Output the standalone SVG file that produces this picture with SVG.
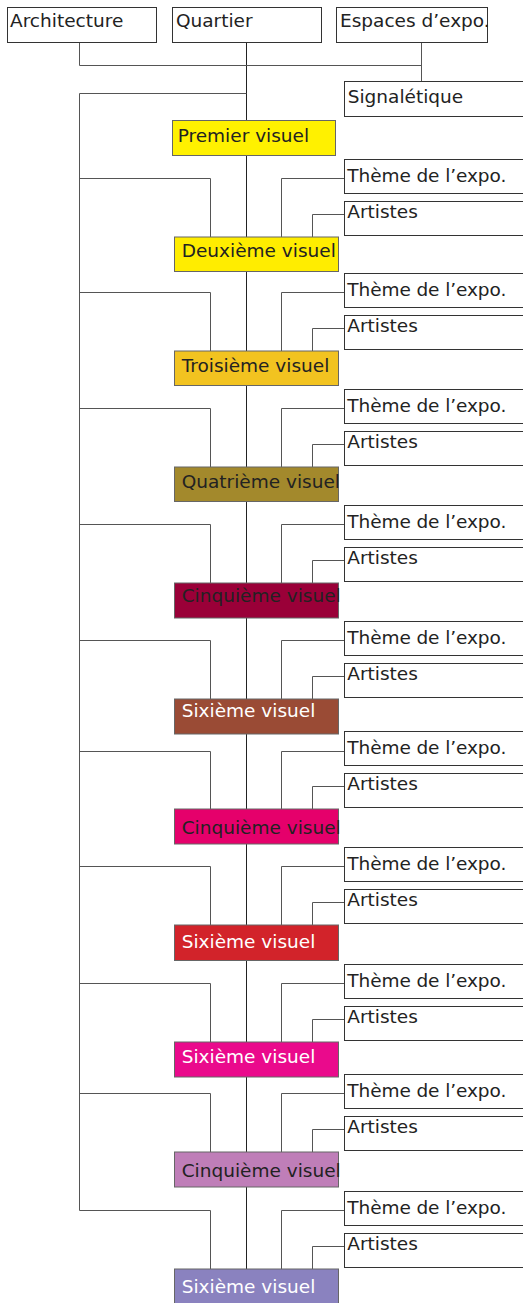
<svg xmlns="http://www.w3.org/2000/svg" width="523" height="1303" viewBox="0 0 523 1303">
<style>
text{font-family:"DejaVu Sans","Liberation Sans",sans-serif;font-size:18.5px;fill:#222}
.w{fill:#fff}
.box{fill:#fff;stroke:#333;stroke-width:1}
.v{stroke:#666;stroke-width:1}
#connectors path{fill:none;stroke:#555;stroke-width:1}
#connectors .c{stroke:#222}
</style>
<rect width="523" height="1303" fill="#fff"/>
<g id="connectors">
<path class="c" d="M246.5 42V1269"/>
<path d="M79.5 42V65.5H421.5M421.5 42V81"/>
<path d="M246.5 93.5H79.5V1210.5"/>
<path d="M79.5 178.5H210.5V237M344 178.5H281.5V237M344 214.5H312.5V237"/>
<path d="M79.5 292.5H210.5V351M344 292.5H281.5V351M344 328.5H312.5V351"/>
<path d="M79.5 408.5H210.5V467M344 408.5H281.5V467M344 444.5H312.5V467"/>
<path d="M79.5 524.5H210.5V583M344 524.5H281.5V583M344 560.5H312.5V583"/>
<path d="M79.5 640.5H210.5V699M344 640.5H281.5V699M344 676.5H312.5V699"/>
<path d="M79.5 751.5H210.5V809M344 751.5H281.5V809M344 786.5H312.5V809"/>
<path d="M79.5 866.5H210.5V925M344 866.5H281.5V925M344 902.5H312.5V925"/>
<path d="M79.5 983.5H210.5V1042M344 983.5H281.5V1042M344 1019.5H312.5V1042"/>
<path d="M79.5 1093.5H210.5V1152M344 1093.5H281.5V1152M344 1129.5H312.5V1152"/>
<path d="M79.5 1210.5H210.5V1269M344 1210.5H281.5V1269M344 1246.5H312.5V1269"/>
</g>
<g id="architecture"><rect class="box" x="7.5" y="7.5" width="149" height="35"/><text x="10" y="26.7">Architecture</text></g>
<g id="quartier"><rect class="box" x="172.5" y="7.5" width="149" height="35"/><text x="176" y="26.7">Quartier</text></g>
<g id="espaces"><rect class="box" x="336.5" y="7.5" width="151" height="35"/><text x="340" y="26.7">Espaces d’expo.</text></g>
<g id="signaletique"><rect class="box" x="344.5" y="81.5" width="190" height="35"/><text x="347.7" y="103.3">Signalétique</text></g>
<g id="premier"><rect class="v" fill="#FFF100" x="172.5" y="120.5" width="163" height="35"/><text x="177.7" y="141.7">Premier visuel</text></g>

<g id="theme1"><rect class="box" x="344.5" y="159.5" width="190" height="34"/><text x="347.3" y="181.7" textLength="159">Thème de l’expo.</text></g>
<g id="artistes1"><rect class="box" x="344.5" y="201.5" width="190" height="34"/><text x="347.3" y="218.3">Artistes</text></g>
<g id="v2"><rect class="v" fill="#FFED00" x="174.5" y="237" width="164" height="34.5"/><text x="181.7" y="256.7">Deuxième visuel</text></g>

<g id="theme2"><rect class="box" x="344.5" y="273.5" width="190" height="34"/><text x="347.3" y="295.7" textLength="159">Thème de l’expo.</text></g>
<g id="artistes2"><rect class="box" x="344.5" y="315.5" width="190" height="34"/><text x="347.3" y="332.3">Artistes</text></g>
<g id="v3"><rect class="v" fill="#F2C320" x="174.5" y="351" width="164" height="34.5"/><text x="181.7" y="372.3">Troisième visuel</text></g>

<g id="theme3"><rect class="box" x="344.5" y="389.5" width="190" height="34"/><text x="347.3" y="411.7" textLength="159">Thème de l’expo.</text></g>
<g id="artistes3"><rect class="box" x="344.5" y="431.5" width="190" height="34"/><text x="347.3" y="448.3">Artistes</text></g>
<g id="v4"><rect class="v" fill="#A3892C" x="174.5" y="467" width="164" height="34.5"/><text x="181.7" y="488.3">Quatrième visuel</text></g>

<g id="theme4"><rect class="box" x="344.5" y="505.5" width="190" height="34"/><text x="347.3" y="527.7" textLength="159">Thème de l’expo.</text></g>
<g id="artistes4"><rect class="box" x="344.5" y="547.5" width="190" height="34"/><text x="347.3" y="564.3">Artistes</text></g>
<g id="v5"><rect class="v" fill="#9A0038" x="174.5" y="583" width="164" height="35"/><text x="181.7" y="602.3">Cinquième visuel</text></g>

<g id="theme5"><rect class="box" x="344.5" y="621.5" width="190" height="34"/><text x="347.3" y="643.7" textLength="159">Thème de l’expo.</text></g>
<g id="artistes5"><rect class="box" x="344.5" y="663.5" width="190" height="34"/><text x="347.3" y="680.3">Artistes</text></g>
<g id="v6"><rect class="v" fill="#9A4B35" x="174.5" y="699" width="164" height="35"/><text class="w" x="181.7" y="716.7">Sixième visuel</text></g>

<g id="theme6"><rect class="box" x="344.5" y="731.5" width="190" height="34"/><text x="347.3" y="753.7" textLength="159">Thème de l’expo.</text></g>
<g id="artistes6"><rect class="box" x="344.5" y="773.5" width="190" height="34"/><text x="347.3" y="790.3">Artistes</text></g>
<g id="v7"><rect class="v" fill="#E5006B" x="174.5" y="809" width="164" height="35"/><text x="181.7" y="834">Cinquième visuel</text></g>

<g id="theme7"><rect class="box" x="344.5" y="847.5" width="190" height="34"/><text x="347.3" y="869.7" textLength="159">Thème de l’expo.</text></g>
<g id="artistes7"><rect class="box" x="344.5" y="889.5" width="190" height="34"/><text x="347.3" y="906.3">Artistes</text></g>
<g id="v8"><rect class="v" fill="#D2232A" x="174.5" y="925" width="164" height="35.5"/><text class="w" x="181.7" y="948.3">Sixième visuel</text></g>

<g id="theme8"><rect class="box" x="344.5" y="964.5" width="190" height="34"/><text x="347.3" y="986.7" textLength="159">Thème de l’expo.</text></g>
<g id="artistes8"><rect class="box" x="344.5" y="1006.5" width="190" height="34"/><text x="347.3" y="1023.3">Artistes</text></g>
<g id="v9"><rect class="v" fill="#EA0A8C" x="174.5" y="1042" width="164" height="35"/><text class="w" x="181.7" y="1063.3">Sixième visuel</text></g>

<g id="theme9"><rect class="box" x="344.5" y="1074.5" width="190" height="34"/><text x="347.3" y="1096.7" textLength="159">Thème de l’expo.</text></g>
<g id="artistes9"><rect class="box" x="344.5" y="1116.5" width="190" height="34"/><text x="347.3" y="1133.3">Artistes</text></g>
<g id="v10"><rect class="v" fill="#BF7EB8" x="174.5" y="1152" width="164" height="35"/><text x="181.7" y="1177.3">Cinquième visuel</text></g>

<g id="theme10"><rect class="box" x="344.5" y="1191.5" width="190" height="34"/><text x="347.3" y="1213.7" textLength="159">Thème de l’expo.</text></g>
<g id="artistes10"><rect class="box" x="344.5" y="1233.5" width="190" height="34"/><text x="347.3" y="1250.3">Artistes</text></g>
<g id="v11"><rect class="v" fill="#8A82BF" x="174.5" y="1269" width="164" height="35"/><text class="w" x="181.7" y="1293.3">Sixième visuel</text></g>
</svg>
